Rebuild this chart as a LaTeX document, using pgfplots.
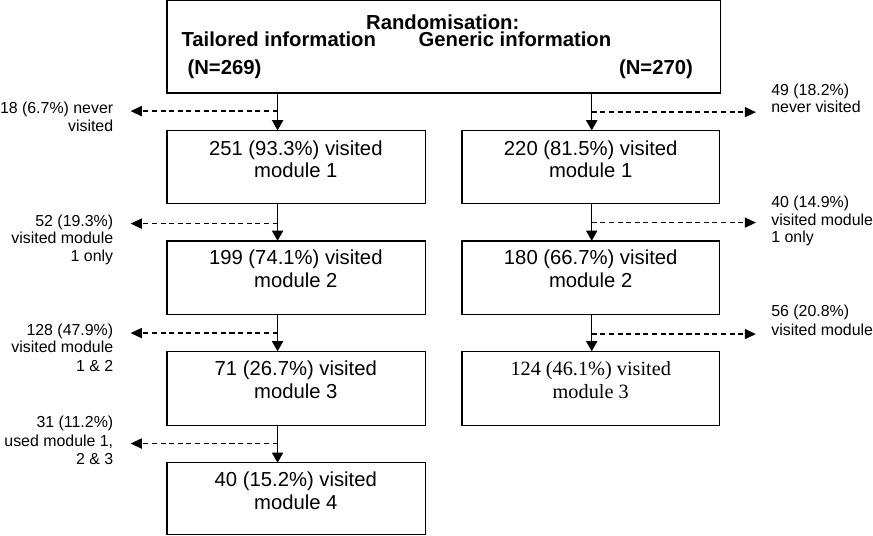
\documentclass[border=0pt]{standalone}
\usepackage{pgfplots}
\pgfplotsset{compat=1.18}
\usepackage{fontspec}
\setmainfont{Liberation Sans}
\newfontfamily\timesfont{Liberation Serif}
\usetikzlibrary{arrows.meta}
\tikzset{
  bx/.style={draw=black, line join=miter},
  va/.style={-{Triangle[length=10pt,width=11pt]}},
  da/.style={-{Triangle[length=11pt,width=10pt]}, dash pattern=on 5pt off 3.5pt},
  bt/.style={font=\fontsize{20}{22}\selectfont, inner sep=0pt},
  bb/.style={font=\fontsize{20}{22}\selectfont\bfseries, inner sep=0pt},
  bs/.style={font=\fontsize{20}{22}\selectfont\timesfont, inner sep=0pt},
  lb/.style={font=\fontsize{15.7}{17.5}\selectfont, inner sep=0pt},
}
\begin{document}
\begin{tikzpicture}
\begin{axis}[
  scale only axis, width=873pt, height=536pt,
  xmin=0, xmax=873, ymin=0, ymax=536, y dir=reverse,
  hide axis, clip=false,
  every axis plot/.append style={black, line width=1.3pt, no markers},
]
% boxes
\addplot[bx] coordinates {(171,7) (717,7) (717,98) (171,98)} -- cycle;
\addplot[bx] coordinates {(171,135) (426,135) (426,207) (171,207)} -- cycle;
\addplot[bx] coordinates {(171,244) (426,244) (426,317) (171,317)} -- cycle;
\addplot[bx] coordinates {(171,353) (426,353) (426,426) (171,426)} -- cycle;
\addplot[bx] coordinates {(171,463) (426,463) (426,534) (171,534)} -- cycle;
\addplot[bx] coordinates {(462,135) (716,135) (716,207) (462,207)} -- cycle;
\addplot[bx] coordinates {(462,244) (716,244) (716,317) (462,317)} -- cycle;
\addplot[bx] coordinates {(462,353) (716,353) (716,426) (462,426)} -- cycle;
% vertical arrows
\addplot[va] coordinates {(280,98) (280,135)};
\addplot[va] coordinates {(280,207) (280,244)};
\addplot[va] coordinates {(280,317) (280,353)};
\addplot[va] coordinates {(280,426) (280,463)};
\addplot[va] coordinates {(590,98) (590,135)};
\addplot[va] coordinates {(590,207) (590,244)};
\addplot[va] coordinates {(590,317) (590,353)};
% dashed arrows
\addplot[da] coordinates {(280,116) (135,116)};
\addplot[da] coordinates {(280,227) (135,227)};
\addplot[da] coordinates {(280,335) (135,335)};
\addplot[da] coordinates {(280,444) (135,444)};
\addplot[da] coordinates {(590,117) (752,117)};
\addplot[da] coordinates {(590,226) (752,226)};
\addplot[da] coordinates {(590,336) (752,336)};
% top box text
\node[bb] at (axis cs:443,28) {Randomisation:};
\node[bb, anchor=mid west] at (axis cs:185,50) {Tailored information};
\node[bb, anchor=mid west] at (axis cs:419,50) {Generic information};
\node[bb, anchor=mid west] at (axis cs:191,77) {(N=269)};
\node[bb, anchor=mid east] at (axis cs:690,77) {(N=270)};
% left box text
\node[bt, anchor=mid] at (axis cs:298,157) {251 (93.3\%) visited};
\node[bt, anchor=mid] at (axis cs:298,179) {module 1};
\node[bt, anchor=mid] at (axis cs:298,265) {199 (74.1\%) visited};
\node[bt, anchor=mid] at (axis cs:298,287) {module 2};
\node[bt, anchor=mid] at (axis cs:298,374) {71 (26.7\%) visited};
\node[bt, anchor=mid] at (axis cs:298,397) {module 3};
\node[bt, anchor=mid] at (axis cs:298,484) {40 (15.2\%) visited};
\node[bt, anchor=mid] at (axis cs:298,506) {module 4};
% right box text
\node[bt, anchor=mid] at (axis cs:589,157) {220 (81.5\%) visited};
\node[bt, anchor=mid] at (axis cs:589,179) {module 1};
\node[bt, anchor=mid] at (axis cs:589,265) {180 (66.7\%) visited};
\node[bt, anchor=mid] at (axis cs:589,287) {module 2};
\node[bs, anchor=mid] at (axis cs:589,374) {124 (46.1\%) visited};
\node[bs, anchor=mid] at (axis cs:589,397) {module 3};
% left labels
\node[lb, anchor=mid east] at (axis cs:118,116) {18 (6.7\%) never};
\node[lb, anchor=mid east] at (axis cs:118,133) {visited};
\node[lb, anchor=mid east] at (axis cs:118,227) {52 (19.3\%)};
\node[lb, anchor=mid east] at (axis cs:118,244) {visited module};
\node[lb, anchor=mid east] at (axis cs:118,262) {1 only};
\node[lb, anchor=mid east] at (axis cs:118,335) {128 (47.9\%)};
\node[lb, anchor=mid east] at (axis cs:118,352) {visited module};
\node[lb, anchor=mid east] at (axis cs:118,370) {1 \& 2};
\node[lb, anchor=mid east] at (axis cs:118,426) {31 (11.2\%)};
\node[lb, anchor=mid east] at (axis cs:118,444) {used module 1,};
\node[lb, anchor=mid east] at (axis cs:118,462) {2 \& 3};
% right labels
\node[lb, anchor=mid west] at (axis cs:767,98) {49 (18.2\%)};
\node[lb, anchor=mid west] at (axis cs:767,115) {never visited};
\node[lb, anchor=mid west] at (axis cs:767,208) {40 (14.9\%)};
\node[lb, anchor=mid west] at (axis cs:767,226) {visited module};
\node[lb, anchor=mid west] at (axis cs:767,243) {1 only};
\node[lb, anchor=mid west] at (axis cs:767,316) {56 (20.8\%)};
\node[lb, anchor=mid west] at (axis cs:767,335) {visited module};
\end{axis}
\end{tikzpicture}
\end{document}
